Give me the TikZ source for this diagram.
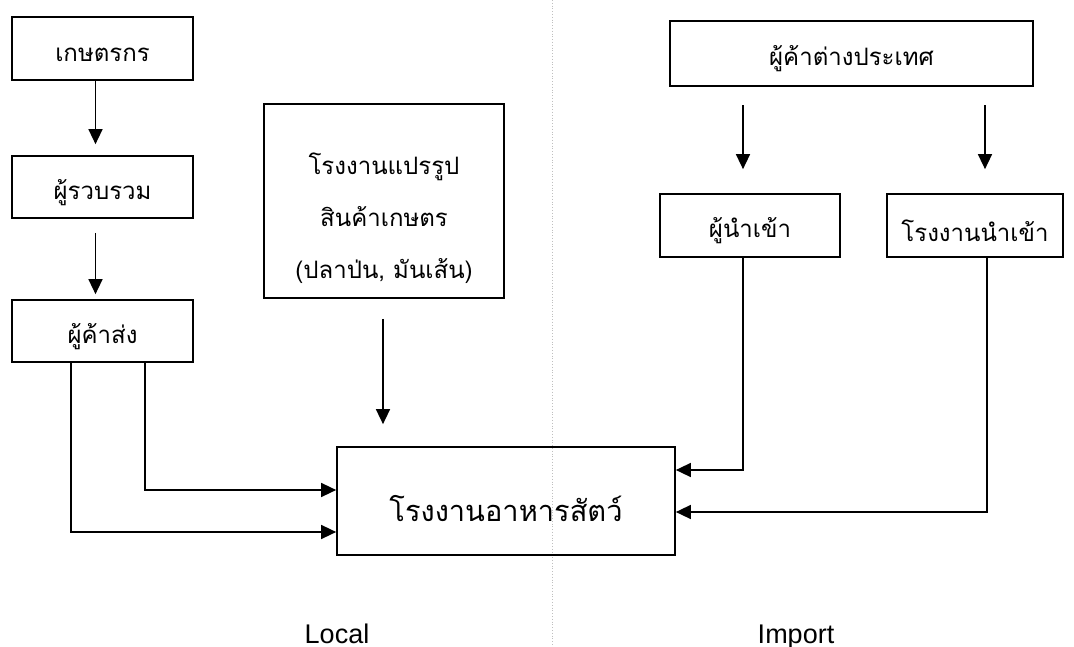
\documentclass[tikz,border=0pt]{standalone}
\usepackage{fontspec}
\setmainfont{Liberation Sans}
\newfontfamily\thai[Script=Thai]{Loma}
\usetikzlibrary{arrows.meta,calc}
\newcommand{\dn}[2]{\raisebox{-#1pt}[\height][\depth]{#2}}
\begin{document}
\begin{tikzpicture}[x=1pt,y=-1pt,
  box/.style={draw,line width=1.7pt,inner sep=0pt,align=center,font=\thai\fontsize{24}{52}\selectfont},
  conn/.style={line width=1.5pt},
  arr/.style={conn,-{Triangle[length=15pt,width=14pt]}},
  lbl/.style={font=\fontsize{27}{32}\selectfont,anchor=base}]
\useasboundingbox (0,0) rectangle (1074,647);
\fill[white] (0,0) rectangle (1074,647);
\draw[black!25,dotted,line width=0.8pt] (552,0) -- (552,647);
% left column
\node[box,minimum width=181,minimum height=63] (farmer) at (102.5,48.5) {\dn{6}{เกษตรกร}};
\node[box,minimum width=181,minimum height=62] (collector) at (102.5,187) {\dn{6}{ผู้รวบรวม}};
\node[box,minimum width=181,minimum height=62] (wholesaler) at (102.5,331) {\dn{6}{ผู้ค้าส่ง}};
\node[box,minimum width=240,minimum height=194] (process) at (384,201) {\dn{15}{\begin{tabular}{@{}c@{}}โรงงานแปรรูป\\สินค้าเกษตร\\(ปลาป่น, มันเส้น)\end{tabular}}};
\node[box,minimum width=338,minimum height=108,font=\thai\fontsize{29}{34}\selectfont] (feed) at (506,501) {\dn{8}{โรงงานอาหารสัตว์}};
% right column
\node[box,minimum width=363,minimum height=65] (foreign) at (851.5,53.5) {\dn{5}{ผู้ค้าต่างประเทศ}};
\node[box,minimum width=180,minimum height=63] (importer) at (750,225.5) {\dn{5}{ผู้นำเข้า}};
\node[box,minimum width=176,minimum height=63] (impfactory) at (975,225.5) {\dn{5}{โรงงานนำเข้า}};
% connectors
\draw[arr] ($(farmer.south)+(-7,0)$) -- ($(collector.north)+(-7,-11)$);
\draw[arr] ($(collector.south)+(-7,14)$) -- ($(wholesaler.north)+(-7,-5)$);
\draw[arr] ($(process.south)+(-1,20)$) -- ($(feed.north -| process.south)+(-1,-22)$);
\draw[arr] ($(wholesaler.south)+(42.5,0)$) |- ($(feed.west)+(0,-11)$);
\draw[arr] ($(wholesaler.south)+(-31.5,0)$) |- ($(feed.west)+(0,31)$);
\draw[arr] ($(importer.north)+(-7,-88)$) -- ($(importer.north)+(-7,-24)$);
\draw[arr] ($(impfactory.north)+(10,-88)$) -- ($(impfactory.north)+(10,-24)$);
\draw[arr] ($(importer.south)+(-7,0)$) |- ($(feed.east)+(0,-31)$);
\draw[arr] ($(impfactory.south)+(12,0)$) |- ($(feed.east)+(0,11)$);
% labels
\node[lbl] (local) at (337,643) {Local};
\node[lbl] (import) at (796,643) {Import};
\end{tikzpicture}
\end{document}
